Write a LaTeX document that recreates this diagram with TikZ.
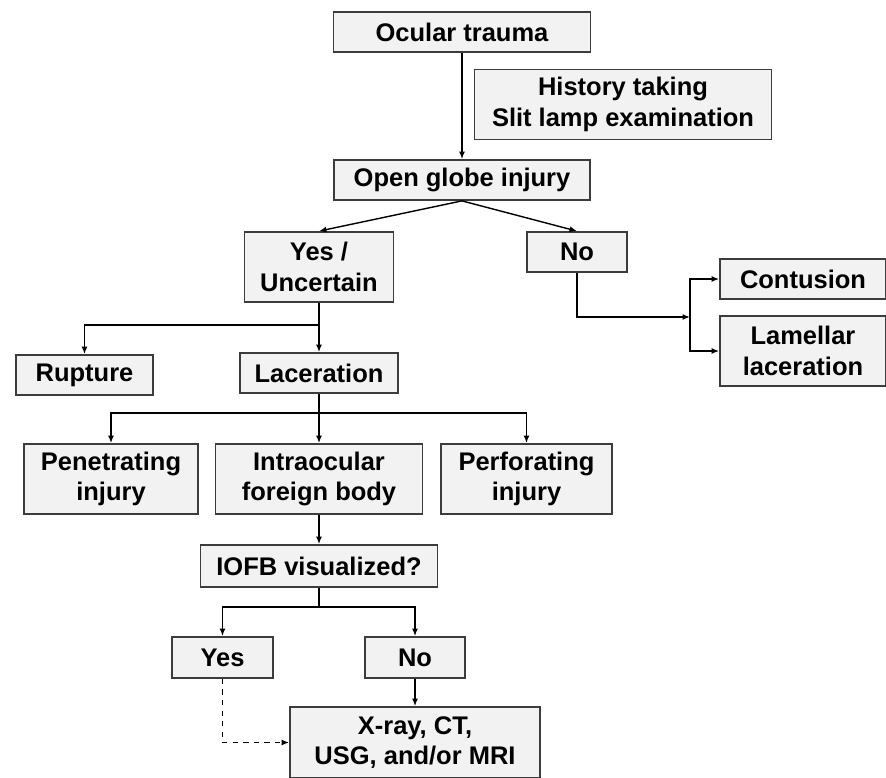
\documentclass[tikz,border=0pt]{standalone}
\usepackage{fontspec}
\setmainfont{Liberation Sans}
\usetikzlibrary{arrows.meta}
\definecolor{boxgray}{RGB}{242,242,242}
\definecolor{edgegray}{RGB}{60,60,60}

\begin{document}
\begin{tikzpicture}[
box/.style = {
	draw=edgegray,
	line width=1pt,
	fill=boxgray,
	align=center,
	font=\fontsize{14.5}{17.5}\selectfont\bfseries,
	inner sep=0pt,
	minimum height=0.8cm
	},
tall/.style = {
	box,
	minimum height=1.4cm
	},
arr/.style = {
	-{Latex[length=1.5mm,width=1.2mm]},
	line width=0.8pt
	},
dashArr/.style = {
	arr,
	dashed
	}
]
\useasboundingbox (0,0) rectangle (17.72,-15.56);

% TOP NODES
\node [box, minimum width=5.14cm] (trauma) at (9.24,-0.64) {Ocular trauma};
\node [tall, minimum width=5.94cm] (hist) at (12.46,-2.09) {History taking\\Slit lamp examination};
\node [box, minimum width=5.12cm] (globe) at (9.24,-3.60) {Open globe injury};
\node [tall, minimum width=2.98cm] (yesA) at (6.38,-5.34) {Yes /\\Uncertain};
\node [box, minimum width=2.0cm] (noA) at (11.54,-5.04) {No};

% CLOSED GLOBE NODES
\node [box, minimum width=3.32cm] (contusion) at (16.06,-5.58) {Contusion};
\node [tall, minimum width=3.32cm] (lamellar) at (16.06,-7.02) {Lamellar\\laceration};

% OPEN GLOBE NODES
\node [box, minimum width=2.74cm] (rupture) at (1.69,-7.50) {Rupture};
\node [box, minimum width=3.16cm] (laceration) at (6.38,-7.46) {Laceration};
\node [tall, minimum width=3.48cm] (penetrating) at (2.22,-9.58) {Penetrating\\injury};
\node [tall, minimum width=4.14cm] (iofb) at (6.38,-9.58) {Intraocular\\foreign body};
\node [tall, minimum width=3.42cm] (perforating) at (10.53,-9.58) {Perforating\\injury};

% IOFB NODES
\node [box, minimum width=4.74cm, minimum height=0.84cm] (visual) at (6.38,-11.32) {IOFB visualized?};
\node [box, minimum width=2.02cm, minimum height=0.82cm] (yesB) at (4.45,-13.15) {Yes};
\node [box, minimum width=2.0cm, minimum height=0.82cm] (noB) at (8.30,-13.15) {No};
\node [tall, minimum width=5.0cm, minimum height=1.42cm] (imaging) at (8.30,-14.85) {X-ray, CT,\\USG, and/or MRI};

% JUNCTIONS
\coordinate (jA) at (6.38,-6.50);
\coordinate (jB) at (6.38,-8.26);
\coordinate (jC) at (6.38,-12.14);
\coordinate (jD) at (13.80,-6.34);

% PATHS
\draw [arr] (trauma) -- (globe);
\draw [arr] (globe.south) -- (yesA.north);
\draw [arr] (globe.south) -- (noA.north);
\draw [arr] (noA) |- (jD);
\draw [arr] (jD) |- (contusion);
\draw [arr] (jD) |- (lamellar);
\draw [line width=0.8pt] (yesA) -- (jA);
\draw [arr] (jA) -| (rupture);
\draw [arr] (jA) -- (laceration);
\draw [line width=0.8pt] (laceration) -- (jB);
\draw [arr] (jB) -| (penetrating);
\draw [arr] (jB) -- (iofb);
\draw [arr] (jB) -| (perforating);
\draw [arr] (iofb) -- (visual);
\draw [line width=0.8pt] (visual) -- (jC);
\draw [arr] (jC) -| (yesB);
\draw [arr] (jC) -| (noB);
\draw [arr] (noB) -- (imaging);
\draw [dashArr] (yesB) |- (imaging);
\end{tikzpicture}
\end{document}
